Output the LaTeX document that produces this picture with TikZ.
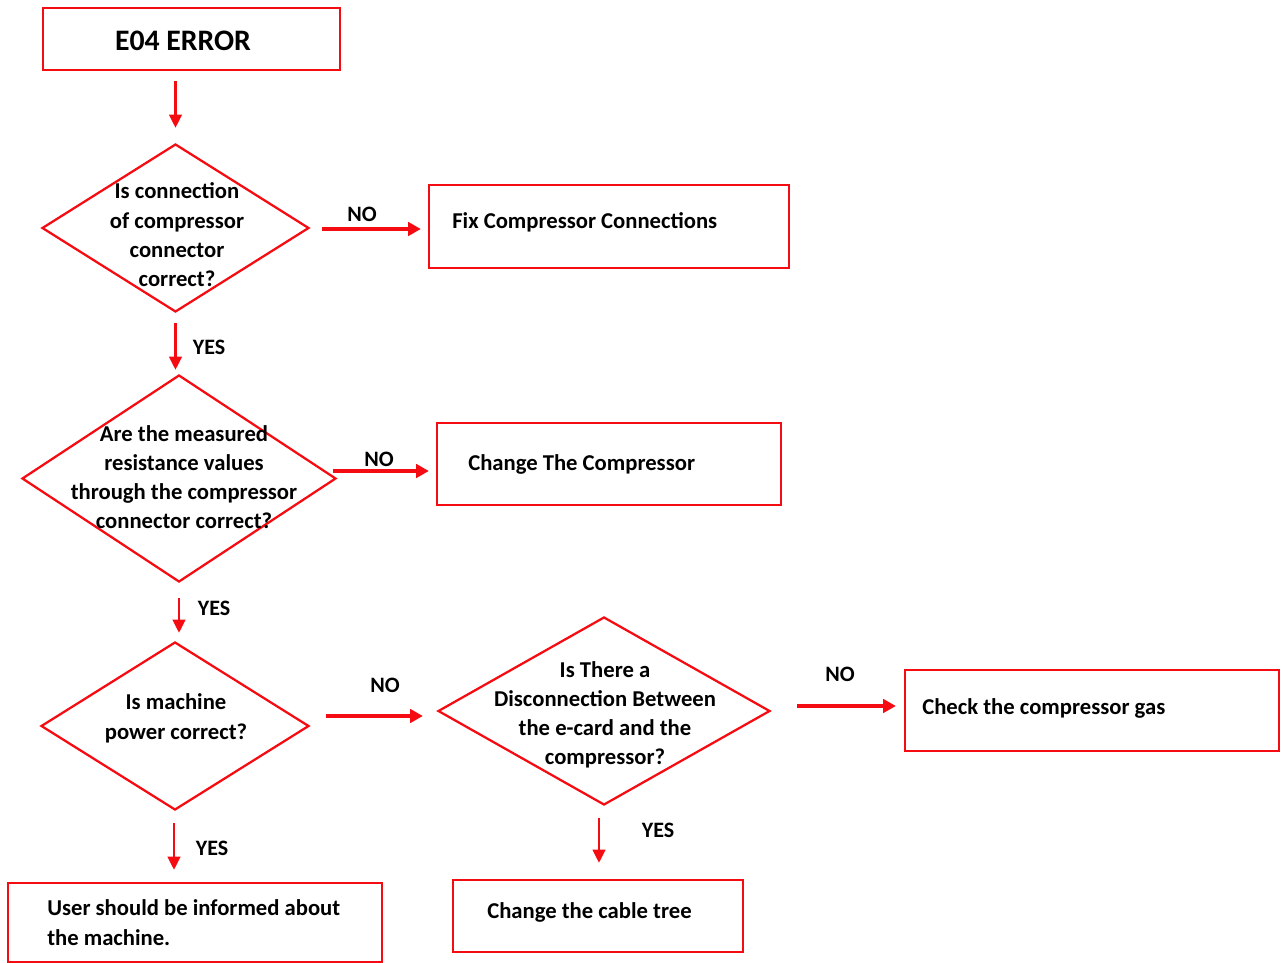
\documentclass[tikz,border=0pt]{standalone}
\usepackage{fontspec}
\setmainfont{Carlito}
\usetikzlibrary{shapes.geometric,arrows.meta,calc}
\definecolor{fred}{RGB}{245,12,18}
\begin{document}
\begin{tikzpicture}[x=0.75pt,y=-0.75pt,
  box/.style={draw=fred, line width=1.7pt, rectangle, inner sep=0pt},
  dia/.style={draw=fred, line width=1.7pt, diamond, inner sep=0pt},
  txt/.style={font=\bfseries\fontsize{17}{21.75}\selectfont, inner sep=0pt},
  arr/.style={draw=fred, line width=2pt, -{Triangle[length=10pt,width=9.5pt]}},
  noarr/.style={draw=fred, line width=3pt, -{Triangle[length=9.5pt,width=10pt]}},
  lbl/.style={font=\bfseries\fontsize{16.5}{18}\selectfont, inner sep=0pt}]
\useasboundingbox (0,0) rectangle (1285,963);
% boxes
\node[box, minimum width=222.75pt, minimum height=46.5pt] (e04) at (191.5,39) {};
\node[box, minimum width=270pt, minimum height=62.25pt] (fix) at (609,226.5) {};
\node[box, minimum width=258pt, minimum height=61.5pt] (chg) at (609,464) {};
\node[box, minimum width=280.5pt, minimum height=60.75pt] (gas) at (1092,710.5) {};
\node[box, minimum width=217.5pt, minimum height=54pt] (cab) at (598,916) {};
\node[box, minimum width=280.5pt, minimum height=59.25pt] (usr) at (195,922.5) {};
% diamonds
\node[dia, minimum width=200.25pt, minimum height=126pt] (d1) at (175.5,228) {};
\node[dia, minimum width=235.5pt, minimum height=155.25pt] (d2) at (179,478.5) {};
\node[dia, minimum width=201pt, minimum height=126pt] (d3) at (175,726) {};
\node[dia, minimum width=249pt, minimum height=141pt] (d4) at (604,711) {};
% texts
\node[txt, font=\bfseries\fontsize{22.3}{24}\selectfont] (e04t) at (183,41) {E04 ERROR};
\node[txt, anchor=west] (fixt) at (452,222) {Fix Compressor Connections};
\node[txt, anchor=west] (chgt) at (468,464) {Change The Compressor};
\node[txt, anchor=west] (gast) at (922,708) {Check the compressor gas};
\node[txt, anchor=west] (cabt) at (487,912) {Change the cable tree};
\node[txt, anchor=west, align=left, font=\bfseries\fontsize{17}{22.5}\selectfont] (usrt) at (47,923) {User should be informed about\\the machine.};
\node[txt, align=center, font=\bfseries\fontsize{17}{22}\selectfont] (d1t) at (177,235) {Is connection\\of compressor\\connector\\correct?};
\node[txt, align=center, font=\bfseries\fontsize{17}{21.75}\selectfont] (d2t) at (184,477.5) {Are the measured\\resistance values\\through the compressor\\connector correct?};
\node[txt, align=center, font=\bfseries\fontsize{17}{22.5}\selectfont] (d3t) at (176,718) {Is machine\\power correct?};
\node[txt, align=center, font=\bfseries\fontsize{17}{21.75}\selectfont] (d4t) at (605,714.5) {Is There a\\Disconnection Between\\the e-card and the\\compressor?};
% labels
\node[lbl] (no1) at (362,214) {NO};
\node[lbl] (no2) at (379,459) {NO};
\node[lbl] (no3) at (385,685) {NO};
\node[lbl] (no4) at (840,674) {NO};
\node[lbl] (yes1) at (209,347) {YES};
\node[lbl] (yes2) at (214,608) {YES};
\node[lbl] (yes3) at (212,848) {YES};
\node[lbl] (yes4) at (658,830) {YES};
% vertical arrows
\draw[arr] ($(d1.north |- e04.south)+(0,10)$) -- ($(d1.north)+(0,-15)$);
\draw[arr] ($(d1.south)+(0,10)$) -- ($(d1.south |- d2.north)+(0,-4)$);
\draw[arr] ($(d2.south)+(0,15)$) -- ($(d2.south |- d3.north)+(0,-8)$);
\draw[arr] ($(d3.south)+(-1,12)$) -- ($(d3.south |- usr.north)+(-1,-12)$);
\draw[arr] ($(d4.south)+(-5,12)$) -- ($(d4.south |- cab.north)+(-5,-16)$);
% horizontal NO arrows
\draw[noarr] ($(d1.east)+(12,1)$) -- ($(fix.west |- d1.east)+(-7,1)$);
\draw[noarr] ($(d2.east)+(-4,-7.5)$) -- ($(chg.west |- d2.east)+(-7,-7.5)$);
\draw[noarr] ($(d3.east)+(16,-10)$) -- ($(d4.west |- d3.east)+(-14,-10)$);
\draw[noarr] ($(d4.east)+(26,-5)$) -- ($(gas.west |- d4.east)+(-8,-5)$);
\end{tikzpicture}
\end{document}
